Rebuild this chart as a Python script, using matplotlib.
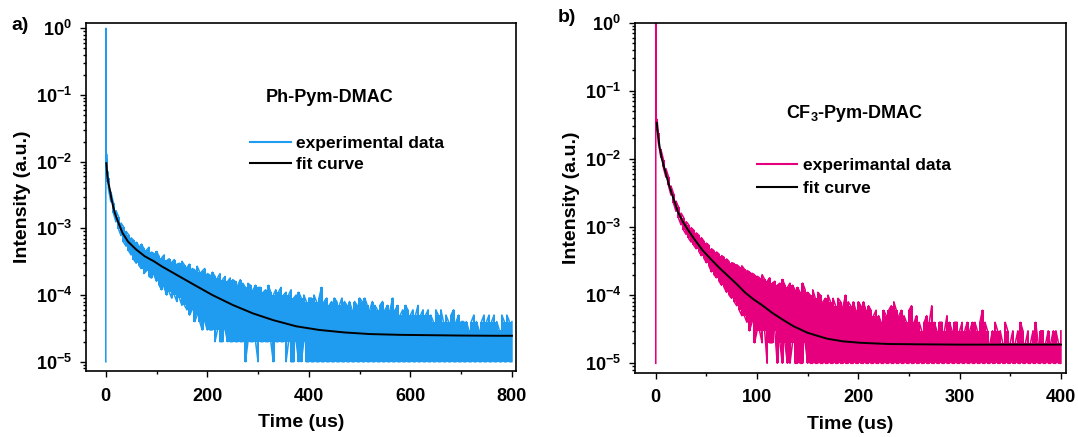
import matplotlib
matplotlib.use("Agg")
import matplotlib.pyplot as plt
from matplotlib.ticker import LogLocator, FuncFormatter, MultipleLocator, NullFormatter
from matplotlib.lines import Line2D
import math

plt.rcParams['font.family'] = ['Liberation Sans', 'DejaVu Sans']
plt.rcParams['font.weight'] = 'bold'
plt.rcParams['mathtext.fontset'] = 'custom'
plt.rcParams['mathtext.rm'] = 'Liberation Sans:bold'
plt.rcParams['mathtext.bf'] = 'Liberation Sans:bold'
plt.rcParams['mathtext.it'] = 'Liberation Sans:bold'
plt.rcParams['mathtext.default'] = 'regular'

COUNT = 1e-5  # intensity (a.u.) of one detector count

# ---------------- panel a : Ph-Pym-DMAC ----------------
time_a = [0, 0.5, 1.5, 2.5, 3.5] + list(range(5, 801, 5))
hi_a = [100000, 4000, 1300, 900, 720,
        560, 350, 240, 185, 150, 120, 105, 90, 80, 72,
        66, 62, 55, 58, 50, 47, 52, 44, 42, 45,
        38, 36, 40, 33, 35, 31, 34, 29, 30, 32,
        28, 26, 29, 25, 24, 27, 22, 23, 25, 21,
        20, 22, 19, 18, 21, 17, 19, 16, 18, 17,
        16, 14, 17, 15, 13, 15, 14, 12, 14, 13,
        13, 11, 12, 14, 11, 10, 12, 11, 13, 10,
        11, 10, 12, 9, 10, 11, 9, 10, 8, 9,
        9, 10, 8, 9, 13, 8, 9, 7, 8, 9,
        8, 7, 9, 8, 7, 8, 6, 8, 7, 9,
        8, 9, 7, 6, 8, 7, 6, 7, 8, 6,
        7, 6, 9, 6, 7, 5, 6, 7, 6, 5,
        6, 5, 7, 5, 6, 5, 6, 5, 4, 6,
        5, 6, 4, 5, 4, 5, 6, 4, 5, 4,
        4, 4, 3, 4, 5, 4, 3, 4, 5, 4,
        5, 4, 5, 4, 3, 5, 4, 5, 4, 4]
lo_a = [1, 1000, 800, 600, 500,
        400, 250, 170, 125, 98, 78, 62, 54, 46, 40,
        34, 30, 28, 25, 21, 23, 19, 18, 20, 16,
        14, 12, 13, 10, 11, 9, 10, 8, 9, 7,
        7, 6, 5, 6, 4, 5, 4, 3, 4, 3,
        3, 3, 2, 3, 2, 2, 3, 2, 2, 2,
        2, 2, 2, 2, 1, 2, 2, 2, 2, 1,
        2, 2, 2, 2, 2, 1, 2, 2, 2, 2,
        1, 2, 1, 1, 2, 1, 1, 2, 1, 1] + [1] * 80
fit_t_a = [1, 3, 5, 8, 11, 14, 18, 24, 33, 44, 60, 77, 95, 110, 140, 175,
           210, 250, 290, 330, 375, 420, 470, 520, 580, 640, 700, 771, 800]
fit_a = [950, 620, 480, 380, 280, 220, 168, 126, 85, 63, 48, 38, 32, 27, 20,
         14.1, 10, 7.1, 5.3, 4.2, 3.4, 3.0, 2.75, 2.6, 2.53, 2.5, 2.47, 2.45, 2.45]

# ---------------- panel b : CF3-Pym-DMAC ----------------
time_b = [0, 0.5, 1.25] + [2.5 * k for k in range(1, 161)]
hi_b = [100000, 6000, 3800,
        2400, 1380, 980, 720, 550, 400, 310, 240, 195, 160,
        138, 120, 108, 98, 90, 82, 76, 70, 62, 58,
        54, 48, 45, 43, 40, 38, 36, 34, 31, 30,
        29, 28, 26, 27, 24, 23, 22, 21, 20, 19,
        18, 20, 17, 16, 18, 15, 16, 14, 15, 17,
        14, 13, 15, 14, 12, 13, 11, 15, 12, 11,
        10, 12, 9, 11, 10, 8, 9, 10, 8, 9,
        7, 9, 8, 7, 10, 8, 7, 8, 6, 8,
        7, 8, 6, 7, 6, 5, 6, 5, 4, 6,
        5, 6, 7, 8, 6, 5, 6, 5, 4, 6,
        7, 4, 5, 4, 3, 4, 5, 4, 7, 4,
        3, 4, 4, 3, 5, 4, 3, 4, 4, 3,
        4, 3, 4, 3, 4, 4, 3, 4, 6, 4,
        3, 2, 3, 4, 3, 3, 2, 4, 3, 2,
        3, 2, 3, 4, 3, 2, 3, 2, 3, 4,
        2, 3, 3, 2, 3, 2, 3, 3, 2, 3]
lo_b = [1, 3500, 2600,
        1750, 1060, 750, 540, 410, 295, 225, 170, 135, 108,
        90, 78, 68, 60, 54, 48, 44, 38, 35, 30,
        27, 22, 20, 18, 16, 14, 13, 11, 10, 9,
        8, 7, 6, 5, 5, 4, 3, 4, 2, 3,
        3, 2, 3, 1, 2, 2, 3, 1, 2, 1,
        2, 1, 1, 2, 1, 1, 1, 1, 2, 1] + [1] * 100
fit_t_b = [1, 2, 4, 6, 9, 12, 15.5, 19, 22, 27, 32, 38.6, 46, 55, 63, 71.6, 80,
           88, 96, 104.6, 115, 125, 136, 150, 169, 185, 202, 230, 260, 300, 350, 400]
fit_b = [3400, 2300, 1450, 1000, 690, 470, 320, 225, 165, 118, 90, 65, 46, 33,
         25, 19, 14.5, 11, 8.8, 7.2, 5.5, 4.4, 3.5, 2.8, 2.3, 2.1, 2.0, 1.92,
         1.9, 1.88, 1.88, 1.88]

COL_A = '#1f9cf0'
COL_B = '#e6007e'

W, H = 1078, 437
fig = plt.figure(figsize=(W / 100, H / 100), dpi=100)


def px_axes(l, r, t, b):
    return fig.add_axes([l / W, 1 - b / H, (r - l) / W, (b - t) / H])


def zigzag(t, lo, hi):
    xs, ys = [], []
    for i, (ti, l, h) in enumerate(zip(t, lo, hi)):
        xs += [ti, ti]
        ys += ([l * COUNT, h * COUNT] if i % 2 == 0 else [h * COUNT, l * COUNT])
    return xs, ys


def fmt(v, pos):
    e = int(round(math.log10(v)))
    return r'$\mathbf{10^{%d}}$' % e


def style(ax, xlim, ylim, xmajor, xminor):
    ax.set_yscale('log')
    ax.set_xlim(*xlim)
    ax.set_ylim(*ylim)
    ax.xaxis.set_major_locator(MultipleLocator(xmajor))
    ax.xaxis.set_minor_locator(MultipleLocator(xminor))
    ax.yaxis.set_major_locator(LogLocator(base=10, numticks=10))
    ax.yaxis.set_minor_locator(LogLocator(base=10, subs=range(2, 10), numticks=20))
    ax.yaxis.set_major_formatter(FuncFormatter(fmt))
    ax.yaxis.set_minor_formatter(NullFormatter())
    ax.tick_params(which='both', direction='out', top=False, right=False, width=1.0)
    ax.tick_params(which='major', length=4, labelsize=13, pad=6)
    ax.tick_params(which='minor', length=2.2)
    ax.tick_params(axis='x', which='major', pad=8)
    for sp in ax.spines.values():
        sp.set_linewidth(1.2)
    ax.set_xlabel('Time (us)', fontsize=14, fontweight='bold', labelpad=7)
    ax.set_ylabel('Intensity (a.u.)', fontsize=14, fontweight='bold', labelpad=3)


def draw(ax, t, lo, hi, ft, fv, col, lab_exp):
    ax.fill_between(t, [v * COUNT for v in lo], [v * COUNT for v in hi],
                    step='mid', color=col, linewidth=0)
    xs, ys = zigzag(t, lo, hi)
    ax.plot(xs, ys, color=col, lw=1.15)
    ax.plot(ft, [v * COUNT for v in fv], color='black', lw=1.4)
    handles = [Line2D([], [], color=col, lw=1.5), Line2D([], [], color='black', lw=1.5)]
    return handles, [lab_exp, 'fit curve']


# panel a
axa = px_axes(86, 516, 22.7, 371)
style(axa, (-39, 808), (10 ** -5.139, 10 ** 0.084), 200, 100)
h, l = draw(axa, time_a, lo_a, hi_a, fit_t_a, fit_a, COL_A, 'experimental data')
axa.legend(h, l, loc='upper left', bbox_to_anchor=(0.381, 0.674), frameon=False,
           borderpad=0, borderaxespad=0, handlelength=2.35, handletextpad=0.3,
           labelspacing=0.3, prop={'size': 12.5, 'weight': 'bold'})
axa.text(0.4186, 0.7847, 'Ph-Pym-DMAC', transform=axa.transAxes, ha='left',
         va='center', fontsize=13, fontweight='bold')

# panel b
axb = px_axes(635, 1066, 22.7, 372.7)
style(axb, (-20.5, 405), (10 ** -5.138, 1.0), 100, 50)
h, l = draw(axb, time_b, lo_b, hi_b, fit_t_b, fit_b, COL_B, 'experimantal data')
axb.legend(h, l, loc='upper left', bbox_to_anchor=(0.282, 0.613), frameon=False,
           borderpad=0, borderaxespad=0, handlelength=2.35, handletextpad=0.3,
           labelspacing=0.42, prop={'size': 12.5, 'weight': 'bold'})
axb.text(0.351, 0.741, r'CF$_\mathbf{3}$-Pym-DMAC', transform=axb.transAxes, ha='left',
         va='center', fontsize=13, fontweight='bold')

fig.text(20 / W, 1 - 25 / H, 'a)', fontsize=14, fontweight='bold', ha='center', va='center')
fig.text(567 / W, 1 - 17 / H, 'b)', fontsize=14, fontweight='bold', ha='center', va='center')

fig.savefig('out.png', dpi=100)
